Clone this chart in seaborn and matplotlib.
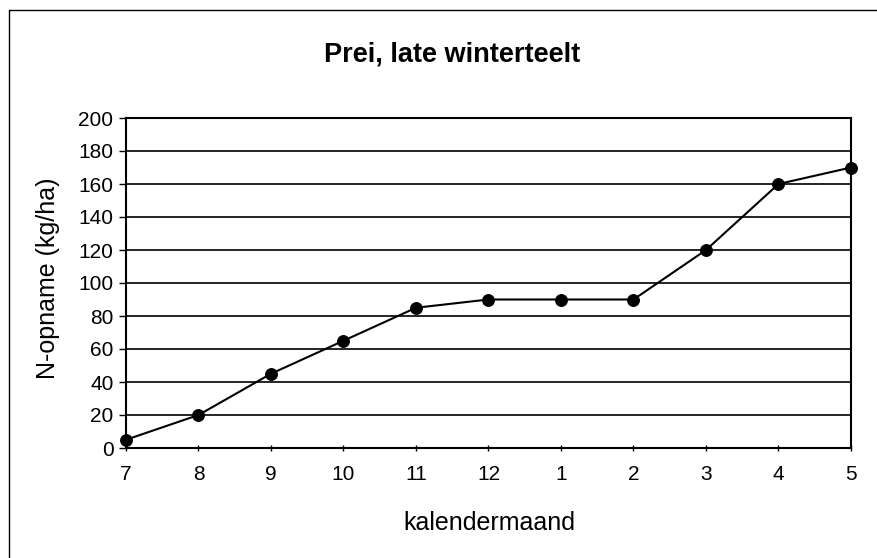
import numpy as np
import pandas as pd
import matplotlib.pyplot as plt
import seaborn as sns
from matplotlib.lines import Line2D

# data
maanden = ['7', '8', '9', '10', '11', '12', '1', '2', '3', '4', '5']
n_opname = [5, 20, 45, 65, 85, 90, 90, 90, 120, 160, 170]
y_ticks = [0, 20, 40, 60, 80, 100, 120, 140, 160, 180, 200]

df = pd.DataFrame({'pos': np.arange(len(maanden)), 'maand': maanden, 'opname': n_opname})

sns.set_style('white', {'text.color': 'black', 'xtick.color': 'black',
                        'ytick.color': 'black', 'axes.labelcolor': 'black'})
plt.rcParams['font.family'] = ['Liberation Sans', 'DejaVu Sans']

W, H = 878, 558
fig = plt.figure(figsize=(W / 100, H / 100), dpi=100)
ax = fig.add_axes([126 / W, 1 - 448 / H, (851 - 126) / W, (448 - 118) / H])

sns.lineplot(data=df, x='pos', y='opname', ax=ax, color='black', linewidth=1.5,
             marker='o', markersize=8.5, markeredgecolor='black', markerfacecolor='black',
             clip_on=False)

ax.set_xlim(0, len(maanden) - 1)
ax.set_ylim(0, 200)
ax.set_yticks(y_ticks)
ax.set_xticks(df['pos'])
ax.set_xticklabels(maanden)
ax.yaxis.grid(True, color='black', linewidth=1.2)
ax.set_axisbelow(True)
for s in ax.spines.values():
    s.set_color('black')
    s.set_linewidth(1.5)
ax.tick_params(axis='y', direction='out', length=5, width=1, color='black',
               labelcolor='black', labelsize=15, pad=4, left=True)
ax.tick_params(axis='x', direction='inout', length=5, width=1, color='black',
               labelcolor='black', labelsize=15, pad=10, bottom=True)
ax.set_xlabel('')
ax.set_ylabel('')

fig.text(452 / W, 1 - 55 / H, 'Prei, late winterteelt', ha='center', va='center',
         fontsize=19.5, fontweight='bold', color='black')
fig.text(489.5 / W, 1 - 523 / H, 'kalendermaand', ha='center', va='center',
         fontsize=18, color='black')
fig.text(48 / W, 1 - 278 / H, 'N-opname (kg/ha)', ha='center', va='center',
         fontsize=18, rotation=90, color='black')

# rand van het grafiekgebied (alleen links en boven zichtbaar)
fig.add_artist(Line2D([9.5 / W, 9.5 / W], [0, 1 - 9.5 / H], color='black', linewidth=1))
fig.add_artist(Line2D([9.5 / W, 1], [1 - 9.5 / H, 1 - 9.5 / H], color='black', linewidth=1))

fig.savefig('out.png', dpi=100, facecolor='white')
